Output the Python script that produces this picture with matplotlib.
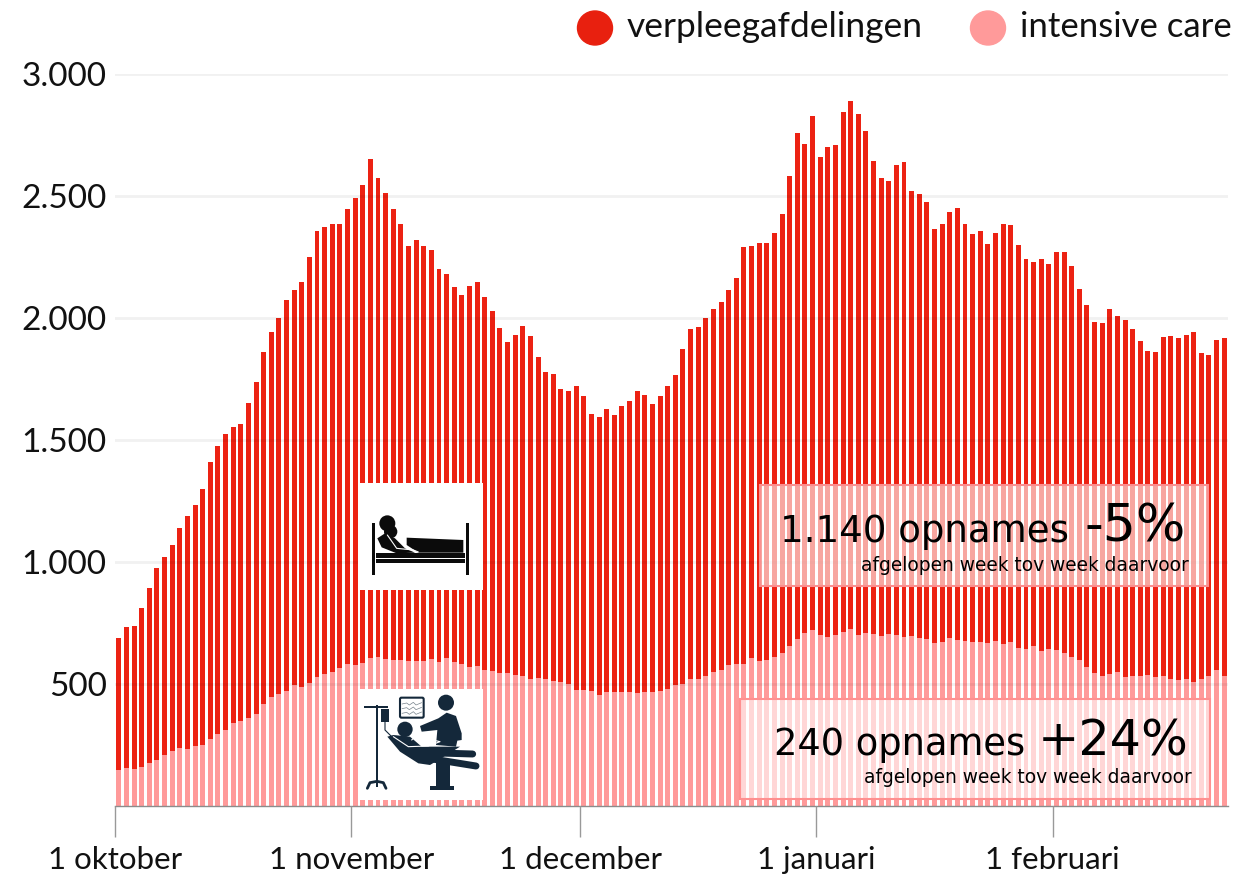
import matplotlib
matplotlib.use('Agg')
import matplotlib.pyplot as plt
from matplotlib.patches import Rectangle, Circle, Polygon, Ellipse, FancyBboxPatch

# totaal = top van de gestapelde balk, ic = onderste deel
totaal = [690, 733, 739, 810, 892, 974, 1020, 1070, 1140, 1190, 1232, 1298, 1410, 1475, 1525, 1553, 1567, 1652, 1737, 1860,
          1942, 2002, 2073, 2114, 2147, 2250, 2357, 2374, 2385, 2385, 2448, 2493, 2545, 2653, 2572, 2512, 2445, 2385, 2295, 2318,
          2295, 2278, 2199, 2180, 2125, 2094, 2131, 2146, 2087, 2030, 1960, 1902, 1932, 1968, 1926, 1840, 1779, 1770, 1710, 1700,
          1720, 1682, 1606, 1595, 1625, 1603, 1640, 1659, 1700, 1685, 1648, 1680, 1723, 1767, 1872, 1956, 1965, 2002, 2035, 2065,
          2113, 2162, 2291, 2296, 2308, 2306, 2349, 2427, 2580, 2759, 2715, 2828, 2659, 2702, 2710, 2845, 2890, 2836, 2766, 2645,
          2575, 2560, 2628, 2640, 2520, 2508, 2475, 2366, 2385, 2435, 2450, 2387, 2345, 2357, 2305, 2348, 2386, 2380, 2300, 2240,
          2230, 2240, 2220, 2270, 2270, 2215, 2120, 2052, 1983, 1980, 2035, 2010, 1990, 1953, 1905, 1863, 1860, 1923, 1926, 1920,
          1930, 1942, 1857, 1850, 1908, 1918]
ic = [149, 156, 153, 160, 175, 187, 208, 224, 237, 232, 245, 250, 275, 297, 310, 342, 350, 362, 377, 417,
      447, 460, 470, 497, 487, 503, 528, 542, 549, 565, 582, 579, 585, 607, 610, 604, 599, 599, 595, 596,
      595, 601, 592, 607, 592, 582, 569, 573, 556, 552, 545, 547, 537, 532, 521, 526, 521, 514, 507, 502,
      477, 474, 472, 455, 469, 469, 468, 467, 463, 466, 466, 470, 478, 495, 500, 522, 522, 533, 548, 558,
      578, 582, 582, 606, 593, 597, 612, 627, 656, 683, 711, 722, 700, 694, 702, 713, 727, 701, 709, 705,
      697, 706, 700, 693, 697, 689, 686, 667, 672, 688, 679, 676, 674, 671, 670, 678, 663, 671, 647, 642,
      657, 637, 644, 638, 627, 610, 599, 570, 545, 532, 540, 548, 529, 534, 532, 536, 527, 532, 521, 517,
      519, 507, 519, 532, 556, 534]

y_ticks = [500, 1000, 1500, 2000, 2500, 3000]
y_labels = ['500', '1.000', '1.500', '2.000', '2.500', '3.000']
x_ticks = [0, 31, 61, 92, 123]
x_labels = ['1 oktober', '1 november', '1 december', '1 januari', '1 februari']

ROOD = '#ec2213'
ROZE = '#ff9a9a'
W, H = 1240, 876
UI_FONT = ['Lato', 'Noto Sans', 'DejaVu Sans']

fig = plt.figure(figsize=(W / 100, H / 100), dpi=100)
ax = fig.add_axes([115 / W, 1 - 806 / H, (1228 - 115) / W, (806 - 74) / H])

pos = [i + 0.5 for i in range(len(totaal))]
boven = [t - i for t, i in zip(totaal, ic)]
ax.bar(pos, ic, width=0.65, color=ROZE, zorder=2)
ax.bar(pos, boven, bottom=ic, width=0.65, color=ROOD, zorder=2)

ax.set_xlim(0, len(totaal))
ax.set_ylim(0, 3000)
for s in ['top', 'right', 'left']:
    ax.spines[s].set_visible(False)
ax.spines['bottom'].set_color('#8c8c8c')
ax.spines['bottom'].set_linewidth(1)

ax.set_yticks(y_ticks, y_labels, fontsize=24, family=UI_FONT, color='#111111')
ax.set_xticks(x_ticks, x_labels, fontsize=22.5, family=UI_FONT, color='#111111')
ax.tick_params(axis='y', length=0, pad=6)
ax.tick_params(axis='x', length=22, width=1, color='#999999', pad=7)
ax.grid(axis='y', color='black', alpha=0.055, linewidth=2, zorder=3)
ax.set_axisbelow(False)

# overlay in pixels van de afbeelding: legenda, iconen, kaders
ov = fig.add_axes([0, 0, 1, 1], facecolor='none')
ov.set_xlim(0, W)
ov.set_ylim(H, 0)
ov.axis('off')

ov.add_patch(Ellipse((595, 28), 35, 34, color='#e8200f'))
ov.add_patch(Ellipse((988, 28), 35, 34, color=ROZE))
ov.text(627, 27, 'verpleegafdelingen', fontsize=25.5, family=UI_FONT, va='center', color='#111111')
ov.text(1020, 27, 'intensive care', fontsize=25, family=UI_FONT, va='center', color='#111111')

# iconen: coordinaten uit de uitsnede, gedeeld door 3
def zx(v):
    return 350 + v / 3

def zy(v):
    return 470 + v / 3

def rect(x0, y0, x1, y1, col, **kw):
    ov.add_patch(Rectangle((zx(x0), zy(y0)), (x1 - x0) / 3, (y1 - y0) / 3, facecolor=col, edgecolor='none', **kw))

def poly(pts, col):
    ov.add_patch(Polygon([(zx(a), zy(b)) for a, b in pts], closed=True, facecolor=col, edgecolor='none'))

def circ(x, y, r, col):
    ov.add_patch(Circle((zx(x), zy(y)), r / 3, facecolor=col, edgecolor='none'))

def line(pts, col, lw):
    ov.plot([zx(a) for a, b in pts], [zy(b) for a, b in pts], color=col, lw=lw,
            solid_capstyle='round', solid_joinstyle='round')

ov.add_patch(Rectangle((358, 483), 125, 107, facecolor='white', edgecolor='none'))
ov.add_patch(Rectangle((358, 689), 125, 111, facecolor='white', edgecolor='none'))

# bed met patient
ZW = '#0b0b0b'
rect(66, 160, 76, 315, ZW)
rect(348, 160, 357, 315, ZW)
rect(78, 250, 345, 265, ZW)
rect(78, 268, 345, 278, ZW)
poly([(170, 203), (340, 210), (340, 248), (205, 248), (170, 225)], ZW)
circ(112, 160, 24, ZW)
circ(122, 185, 20, ZW)
poly([(82, 205), (105, 190), (135, 205), (165, 235), (195, 248), (140, 250), (95, 232)], ZW)
line([(112, 195), (140, 235), (190, 240), (205, 246)], 'white', 0.8)

# ic-bed met arts
DB = '#14283a'
rect(78, 705, 84, 950, DB)
rect(42, 708, 115, 713, DB)
rect(93, 718, 118, 755, DB)
line([(105, 755), (105, 780), (125, 800)], DB, 0.8)
line([(52, 955), (60, 938), (81, 934), (100, 938), (108, 955)], DB, 2)
ov.add_patch(FancyBboxPatch((zx(150), zy(683)), 71 / 3, 60 / 3, boxstyle='round,pad=0,rounding_size=1.5',
                            facecolor='white', edgecolor=DB, linewidth=1.5))
for y0 in [702, 716, 730]:
    line([(156, y0), (170, y0 - 3), (178, y0 + 3), (190, y0 - 5), (198, y0 + 3), (215, y0 - 4)], '#77838c', 0.5)
circ(288, 698, 24, DB)
poly([(210, 768), (265, 745), (290, 728), (318, 738), (335, 790), (335, 810), (322, 812), (318, 830), (258, 825), (262, 780), (215, 785)], DB)
circ(165, 778, 23, DB)
poly([(112, 800), (130, 795), (180, 800), (215, 830), (270, 830), (330, 830), (290, 855), (240, 885), (205, 880), (150, 845)], DB)
line([(235, 848), (368, 852)], DB, 5)
line([(235, 865), (378, 888)], DB, 5)
line([(130, 800), (175, 830), (235, 828), (270, 815), (240, 808), (205, 790), (185, 810)], 'white', 0.8)
rect(258, 870, 300, 950, DB)
poly([(240, 948), (312, 948), (312, 960), (240, 960)], DB)

# kaders met cijfers
ov.add_patch(Rectangle((759.5, 485), 448.5, 101, facecolor=(1, 1, 1, 0.6), edgecolor='#fb8f8f', linewidth=1.5))
ov.add_patch(Rectangle((739.5, 698.5), 470, 100.5, facecolor=(1, 1, 1, 0.6), edgecolor='#ff9090', linewidth=1.5))

ov.text(1069, 542, '1.140 opnames', fontsize=26.7, ha='right', va='baseline', color='black')
ov.text(1186, 542, '-5%', fontsize=37.5, ha='right', va='baseline', color='black')
ov.text(1189, 571, 'afgelopen week tov week daarvoor', fontsize=13.4, ha='right', va='baseline', color='black')
ov.text(1025, 755, '240 opnames', fontsize=26.5, ha='right', va='baseline', color='black')
ov.text(1189, 755, '+24%', fontsize=35.5, ha='right', va='baseline', color='black')
ov.text(1192, 783, 'afgelopen week tov week daarvoor', fontsize=13.4, ha='right', va='baseline', color='black')

fig.savefig('out.png', dpi=100)
